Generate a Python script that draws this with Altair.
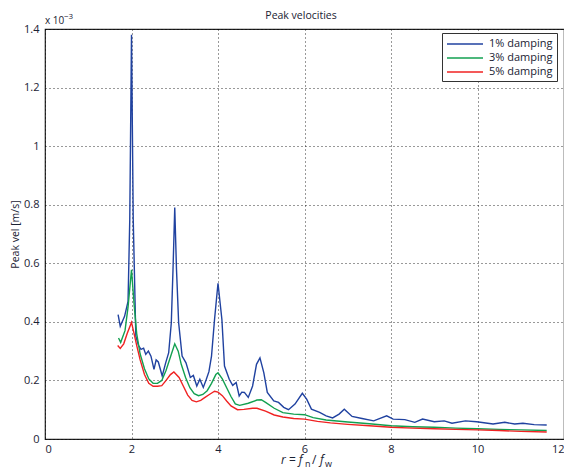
import altair as alt
import pandas as pd

# ---- data (velocity in units of 1e-3 m/s) ----
r_1 = [1.69, 1.74, 1.84, 1.92, 1.96, 2.0, 2.04, 2.1, 2.16, 2.22, 2.28, 2.33, 2.39, 2.45, 2.52, 2.57,
       2.62, 2.71, 2.79, 2.86, 2.92, 2.96, 3.0, 3.04, 3.09, 3.17, 3.26, 3.36, 3.43, 3.51, 3.58, 3.66,
       3.73, 3.79, 3.85, 3.92, 4.0, 4.09, 4.15, 4.26, 4.34, 4.42, 4.49, 4.55, 4.61, 4.7, 4.8, 4.89,
       4.97, 5.06, 5.14, 5.29, 5.4, 5.52, 5.63, 5.78, 5.95, 6.05, 6.16, 6.35, 6.5, 6.65, 6.8, 6.92,
       7.1, 7.33, 7.6, 7.9, 8.05, 8.32, 8.55, 8.73, 9.0, 9.23, 9.41, 9.72, 9.98, 10.36, 10.63, 10.86,
       11.05, 11.31, 11.6]
v_1 = [0.425, 0.385, 0.419, 0.47, 0.75, 1.38, 0.75, 0.351, 0.32, 0.306, 0.31, 0.289, 0.3, 0.283, 0.238, 0.27,
       0.263, 0.215, 0.26, 0.295, 0.396, 0.58, 0.79, 0.58, 0.397, 0.283, 0.26, 0.21, 0.217, 0.181, 0.204, 0.176,
       0.204, 0.23, 0.283, 0.408, 0.532, 0.408, 0.249, 0.204, 0.183, 0.193, 0.147, 0.16, 0.159, 0.142, 0.181, 0.255,
       0.277, 0.226, 0.159, 0.13, 0.125, 0.108, 0.1, 0.119, 0.156, 0.136, 0.102, 0.091, 0.079, 0.072, 0.085, 0.102,
       0.077, 0.07, 0.062, 0.079, 0.068, 0.066, 0.057, 0.068, 0.059, 0.062, 0.054, 0.062, 0.059, 0.051, 0.057, 0.051,
       0.054, 0.049, 0.048]

r_3 = [1.7, 1.75, 1.85, 1.92, 2.0, 2.06, 2.12, 2.2, 2.3, 2.4, 2.5, 2.6, 2.7, 2.8, 2.9, 3.0, 3.08, 3.15,
       3.25, 3.35, 3.45, 3.55, 3.65, 3.75, 3.85, 3.95, 4.0, 4.1, 4.2, 4.3, 4.4, 4.5, 4.7, 4.9, 5.0, 5.1,
       5.3, 5.5, 5.75, 6.0, 6.2, 6.5, 7.0, 7.5, 8.0, 8.5, 9.0, 9.5, 10.0, 10.5, 11.0, 11.6]
v_3 = [0.345, 0.33, 0.37, 0.45, 0.578, 0.46, 0.36, 0.29, 0.24, 0.205, 0.19, 0.19, 0.2, 0.235, 0.28, 0.325, 0.3, 0.255,
       0.21, 0.175, 0.155, 0.148, 0.152, 0.165, 0.19, 0.22, 0.226, 0.205, 0.175, 0.145, 0.12, 0.115, 0.122, 0.133, 0.134, 0.125,
       0.105, 0.09, 0.085, 0.083, 0.073, 0.065, 0.058, 0.052, 0.045, 0.042, 0.04, 0.037, 0.035, 0.033, 0.031, 0.029]

r_5 = [1.68, 1.74, 1.82, 1.9, 2.0, 2.06, 2.12, 2.2, 2.3, 2.4, 2.5, 2.6, 2.7, 2.8, 2.9, 2.98, 3.1, 3.2,
       3.3, 3.4, 3.5, 3.6, 3.7, 3.8, 3.92, 4.0, 4.1, 4.2, 4.3, 4.45, 4.6, 4.8, 4.9, 5.1, 5.3, 5.5,
       5.75, 6.0, 6.3, 6.6, 7.0, 7.5, 8.0, 8.5, 9.0, 9.5, 10.0, 10.5, 11.0, 11.6]
v_5 = [0.319, 0.309, 0.325, 0.36, 0.398, 0.36, 0.32, 0.27, 0.22, 0.19, 0.18, 0.18, 0.182, 0.2, 0.22, 0.229, 0.21, 0.18,
       0.15, 0.132, 0.127, 0.132, 0.142, 0.152, 0.163, 0.16, 0.148, 0.13, 0.113, 0.1, 0.101, 0.105, 0.105, 0.095, 0.082, 0.075,
       0.07, 0.068, 0.06, 0.055, 0.05, 0.045, 0.04, 0.037, 0.035, 0.033, 0.031, 0.029, 0.026, 0.024]

series_names = ["1% damping", "3% damping", "5% damping"]
series_colors = ["#2042a0", "#12a050", "#f02222"]
x_ticks = [0, 2, 4, 6, 8, 10, 12]
y_ticks = [0, 0.2, 0.4, 0.6, 0.8, 1.0, 1.2, 1.4]
chart_title = "Peak velocities"

rows = []
for name, xs, ys in zip(series_names, [r_1, r_3, r_5], [v_1, v_3, v_5]):
    for x, y in zip(xs, ys):
        rows.append({"r": x, "v": y, "series": name})
df = pd.DataFrame(rows)

FONT = "Open Sans"
W, H = 519, 410

lines = alt.Chart(df).mark_line(strokeWidth=1.4).encode(
    x=alt.X("r:Q", scale=alt.Scale(domain=[0, 12], nice=False, zero=False),
            axis=alt.Axis(values=x_ticks, title=None, grid=True, tickSize=0, labelPadding=4,
                          labelFontSize=11, labelColor="#1a2233", domain=False)),
    y=alt.Y("v:Q", scale=alt.Scale(domain=[0, 1.4], nice=False),
            axis=alt.Axis(values=y_ticks, format="~g", title="Peak vel [m/s]", grid=True,
                          tickSize=0, labelPadding=6, labelFontSize=11, labelColor="#1a2233",
                          titleFontSize=10.5, titleFontWeight="normal", titleColor="#1a2233",
                          titleX=-27, titleY=H / 2, titleAngle=-90, titleBaseline="alphabetic",
                          titleAlign="center", domain=False)),
    color=alt.Color("series:N", sort=series_names,
                    scale=alt.Scale(domain=series_names, range=series_colors),
                    legend=alt.Legend(title=None, orient="none", legendX=397, legendY=4,
                                      symbolType="M-3,0L3,0", symbolSize=144, symbolStrokeWidth=1.3,
                                      symbolOffset=12, labelOffset=17, labelFontSize=11,
                                      labelColor="#1a2233", strokeColor="#333333", fillColor="white",
                                      padding=4, rowPadding=2)),
)

one = pd.DataFrame({"a": [0]})

def txt(s, x, y, size=11, style="normal", align="left"):
    return alt.Chart(one).mark_text(text=s, fontSize=size, fontStyle=style, align=align,
                                    baseline="middle", font=FONT, color="#1a2233").encode(
        x=alt.value(x), y=alt.value(y))

annots = [
    txt(chart_title, 256, -13, 10.5, align="center"),
    txt("r = f", 236, 431, 12, "italic"),
    txt("n", 260, 435, 9),
    txt("/", 267, 431, 12),
    txt("f", 275, 431, 12, "italic"),
    txt("w", 280, 435, 9),
    txt("x 10", 0, -8, 10),
    txt("\u22123", 19, -12, 8),
]

chart = alt.layer(lines, *annots).properties(
    width=W, height=H,
    padding={"left": 37, "top": 21, "right": 0, "bottom": 32},
    autosize=alt.AutoSizeParams(type="none"),
).configure_view(stroke="#222222", strokeWidth=1.2).configure_axis(
    gridColor="#000000", gridDash=[1, 3], gridOpacity=0.8, labelFont=FONT, titleFont=FONT,
).configure_legend(labelFont=FONT)

chart.save("out.html", embed_options={"renderer": "svg", "actions": False})
